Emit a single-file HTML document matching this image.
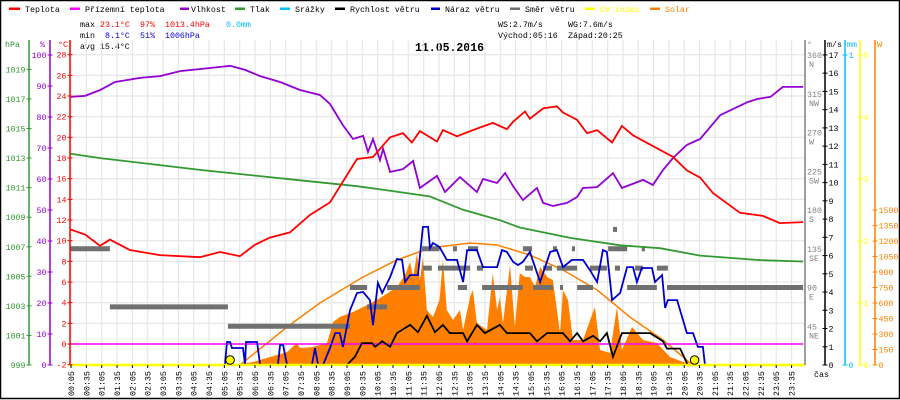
<!DOCTYPE html>
<html><head><meta charset="utf-8"><style>
html,body{margin:0;padding:0;background:#fff;}
svg{display:block;font-family:"Liberation Mono",monospace;}
</style></head><body>
<svg id="chart" width="900" height="400" viewBox="0 0 900 400" xmlns="http://www.w3.org/2000/svg">
<rect x="0.5" y="0.5" width="899" height="398" fill="#fff" stroke="#000" stroke-width="1.5"/>
<g font-size="8.3" fill="#000">
 <g><rect x="9" y="7.5" width="11" height="2.5" fill="#ff0000"/><text x="25" y="12">Teplota</text></g>
 <g><rect x="70" y="7.5" width="10" height="2.5" fill="#ff00ff"/><text x="85" y="12">Přízemní teplota</text></g>
 <g><rect x="180" y="7.5" width="9" height="2.5" fill="#9400d3"/><text x="191" y="12">Vlhkost</text></g>
 <g><rect x="235" y="7.5" width="10" height="2.5" fill="#339933"/><text x="250" y="12">Tlak</text></g>
 <g><rect x="280" y="7.5" width="10" height="2.5" fill="#00bfff"/><text x="295" y="12">Srážky</text></g>
 <g><rect x="335" y="7.5" width="10" height="2.5" fill="#000"/><text x="350" y="12">Rychlost větru</text></g>
 <g><rect x="431" y="7.5" width="9" height="2.5" fill="#0000cc"/><text x="445" y="12">Náraz větru</text></g>
 <g><rect x="510" y="7.5" width="10" height="2.5" fill="#707070"/><text x="525" y="12">Směr větru</text></g>
 <g><rect x="585" y="7.5" width="10" height="2.5" fill="#ffff00"/><text x="600" y="12" fill="#ffff00">UV index</text></g>
 <g><rect x="650" y="7.5" width="10" height="2.5" fill="#ff8000"/><text x="665" y="12" fill="#ff8000">Solar</text></g>
</g>
<g font-size="8.3">
 <text y="27"><tspan x="80" fill="#000">max</tspan><tspan x="100" fill="#ff0000">23.1°C</tspan><tspan x="140" fill="#ff0000">97%</tspan><tspan x="165" fill="#ff0000">1013.4hPa</tspan><tspan fill="#00bfff" x="226">0.0mm</tspan></text>
 <text y="38"><tspan x="80" fill="#000">min</tspan><tspan x="105" fill="#0000cc">8.1°C</tspan><tspan x="140" fill="#0000cc">51%</tspan><tspan x="165" fill="#0000cc">1006hPa</tspan></text>
 <text x="80" y="49" fill="#000">avg 15.4°C</text>
 <text x="498" y="27" fill="#000">WS:2.7m/s</text>
 <text x="568" y="27" fill="#000">WG:7.6m/s</text>
 <text x="498" y="38" fill="#000">Východ:05:16</text>
 <text x="568" y="38" fill="#000">Západ:20:25</text>
 <text x="415" y="51" font-size="11.5" font-weight="bold" fill="#000">11.05.2016</text>
</g>
<g id="layer"></g>
</svg>
<script>
// ---- data (hours, values) ----
const tempH = [0.05,0.54,1.03,1.35,2.0,2.98,4.29,4.94,5.59,6.08,6.57,7.22,7.88,8.53,9.41,9.93,10.49,10.91,11.2,11.46,12.02,12.21,12.67,13.19,13.84,14.30,14.50,14.89,15.05,15.48,15.93,16.13,16.59,16.91,17.24,17.73,18.05,18.41,18.97,19.72,20.17,20.6,21.02,21.9,22.65,23.2,23.96];
const tempV = [11.1,10.6,9.5,10.1,9.1,8.6,8.4,8.9,8.5,9.6,10.3,10.8,12.5,13.7,17.9,18.1,20.0,20.4,19.5,20.6,19.6,20.7,20.1,20.7,21.4,20.8,21.5,22.5,21.8,22.8,23.0,22.4,21.7,20.4,20.7,19.5,21.1,20.2,19.3,18.1,16.8,16.1,14.6,12.7,12.4,11.7,11.8];
const humH = [0.05,0.54,1.03,1.52,2.33,2.98,3.64,4.62,5.27,5.76,6.25,6.90,7.55,8.20,8.53,8.95,9.28,9.61,9.77,9.93,10.16,10.26,10.49,10.91,11.24,11.46,12.02,12.28,12.77,13.32,13.52,13.98,14.24,14.50,14.82,15.28,15.48,15.80,16.26,16.59,16.78,17.24,17.43,17.76,18.05,18.74,19.06,19.39,19.72,20.17,20.6,21.26,22.15,22.47,22.90,23.30,23.96];
const humV = [86.5,86.8,88.7,91.3,92.6,93.2,94.8,95.8,96.5,95.2,93.2,91.3,88.7,87.1,84.2,77.4,72.9,73.9,68.7,72.9,66.1,69.7,62.3,63.2,65.8,57.1,61.0,55.8,60.6,55.8,60.0,58.7,61.9,57.7,53.2,57.1,52.3,51.3,52.3,54.2,57.1,57.4,59.0,61.9,57.1,59.7,58.1,62.9,66.8,71.0,72.9,80.6,84.8,85.8,86.5,89.7,89.7];
const presH = [0.05,1.03,4.29,7.55,9.41,10.81,11.79,12.87,14.07,14.72,16.36,17.99,19.29,20.6,22.55,23.96];
const presV = [1013.3,1013.0,1012.2,1011.5,1011.1,1010.7,1010.4,1009.5,1008.8,1008.3,1007.6,1007.1,1006.9,1006.4,1006.1,1006.0];
const groundH = [0.05,23.96];
const groundV = [0,0];
const gustH = [0,5.10,5.17,5.27,5.33,5.69,5.76,5.79,6.15,6.25,6.83,6.90,7.00,7.13,7.94,8.04,8.14,8.30,8.53,8.70,8.85,8.95,9.18,9.41,9.61,9.83,9.93,10.09,10.23,10.49,10.71,10.88,10.98,11.14,11.40,11.56,11.73,11.79,11.89,12.10,12.34,12.67,12.87,13.0,13.32,13.52,13.98,14.14,14.30,14.50,14.66,14.82,15.05,15.38,15.71,15.93,16.13,16.42,16.78,17.01,17.24,17.43,17.56,17.73,17.99,18.22,18.41,18.54,18.70,19.03,19.13,19.36,19.46,19.55,19.85,20.17,20.37,20.53,20.69,20.76];
const gustV = [0,0,1.26,1.26,0.93,0.93,0,1.26,1.26,0,0,1.1,1.1,0,0,0.93,0,0,0.93,1.75,1.75,0.99,3.0,3.95,4.0,3.56,2.19,4.5,3.95,4.82,5.81,5.76,4.55,4.93,4.93,7.57,7.57,6.41,6.69,6.47,5.76,5.76,4.55,6.3,6.3,5.37,5.37,6.3,6.2,5.65,5.48,5.65,6.2,4.55,6.2,6.3,5.37,5.76,5.76,5.2,4.55,6.3,6.2,3.56,3.95,5.37,5.37,4.55,5.32,5.32,4.55,4.93,3.13,3.56,3.56,1.75,1.75,0.99,0.99,0];
const windH = [0.05,9.08,9.34,9.57,9.90,10.0,10.23,10.49,10.71,11.14,11.40,11.69,11.95,12.21,12.44,12.87,13.0,13.32,13.58,14.07,14.30,15.05,15.28,15.61,16.13,16.36,16.59,16.78,17.11,17.34,17.56,17.76,18.05,18.97,19.39,19.52,19.95,20.20,23.96];
const windV = [0,0,0.45,1.2,1.2,1.0,1.3,1.0,1.75,2.2,1.8,2.7,1.8,2.2,1.75,1.75,1.3,2.2,1.75,2.2,1.75,1.75,1.3,1.75,1.75,1.3,1.75,1.3,1.6,1.3,1.75,0.45,1.75,1.75,1.3,0.9,0.9,0,0];
const dirStart = [0.05,1.35,5.20,9.18,10.39,12.70,13.49,15.15,16.03,16.59,18.22,19.52,9.74,11.56,12.05,13.32,14.89,15.48,15.93,17.01,17.82,18.48,19.19,11.53,12.54,13.03,14.82,15.80,16.42,17.60,18.70,17.76];
const dirEnd   = [1.35,5.20,9.18,9.74,11.46,13.0,14.82,15.80,16.13,17.11,19.19,23.96,10.39,11.85,13.10,13.52,15.15,15.77,16.59,17.56,17.99,18.74,19.55,12.10,12.67,13.36,15.12,15.93,16.52,18.22,18.80,17.89];
const dirDeg   = [135,67.5,45,90,90,90,90,90,90,90,90,90,67.5,112.5,112.5,112.5,112.5,112.5,112.5,112.5,112.5,112.5,112.5,135,135,135,135,135,135,135,135,157.5];
const solarH = [5.37,6.02,7.13,7.45,7.55,7.97,8.43,8.63,8.85,9.18,9.28,9.74,10.16,10.71,10.98,11.14,11.24,11.37,11.46,11.56,11.69,11.89,12.10,12.21,12.34,12.54,12.77,12.87,13.10,13.19,13.32,13.65,13.84,13.98,14.07,14.17,14.40,14.56,14.72,14.89,15.05,15.22,15.38,15.61,15.80,16.03,16.13,16.29,16.45,16.78,17.17,17.34,17.66,17.89,18.05,18.38,18.74,19.19,19.62,20.05,20.27,20.37];
const solarV = [0,29,126,213,164,174,213,416,465,503,513,581,648,755,871,997,852,1084,823,1045,532,465,629,1016,532,436,532,339,658,726,407,339,890,532,658,407,968,368,890,852,852,755,949,852,823,310,726,629,242,242,562,145,116,562,145,368,242,213,77,29,10,0];
const solarMaxH = [5.59,7.13,8.20,9.28,9.61,10.71,11.79,13.10,13.98,15.05,16.13,17.24,18.31,19.39,20.05,20.34];
const solarMaxV = [0,368,600,794,852,1016,1133,1181,1162,1065,920,726,465,242,77,0];
const uvH = [0,24];
const uvV = [0,0];
const sunH = [5.27,20.42];
const hpaTicks = [999,1001,1003,1005,1007,1009,1011,1013,1015,1017,1019];
const humTicks = [0,10,20,30,40,50,60,70,80,90,100];
const tempTicks = [-2,0,2,4,6,8,10,12,14,16,18,20,22,24,26,28];
const dirTicks = [45,90,135,180,225,270,315,360];
const dirNames = ["NE","E","SE","S","SW","W","NW","N"];
const msTicks = [0,1,2,3,4,5,6,7,8,9,10,11,12,13,14,15,16,17];
const mmTicks = [0,1];
const uvTicks = [0,1,2,3,4,5];
const wTicks = [0,150,300,450,600,750,900,1050,1200,1350,1500];
const timeLabels = ["00:05","00:35","01:05","01:35","02:05","02:35","03:05","03:35","04:05","04:35","05:05","05:35","06:05","06:35","07:05","07:35","08:05","08:35","09:05","09:35","10:05","10:35","11:05","11:35","12:05","12:35","13:05","13:35","14:05","14:35","15:05","15:35","16:05","16:35","17:05","17:35","18:05","18:35","19:05","19:35","20:05","20:35","21:05","21:35","22:05","22:35","23:05","23:35"];

// ---- scales ----
const X = h => 68.5 + h*30.66;
const yT = t => 344 - t*10.333;
const yHum = v => 365 - v*3.1;
const yP = p => 365 - (p-999)*14.78;
const yV = v => 365 - v*18.24;
const yD = d => 365 - d*0.861;
const yW = w => 365 - w*0.1033;
const yUV = u => 365 - u*62;
const yMM = m => 365 - m*310;
const tH = s => { const p = s.split(':'); return (+p[0]) + (+p[1])/60; };

const NS = "http://www.w3.org/2000/svg";
const layer = document.getElementById('layer');
function mk(tag, attrs, parent){ const e=document.createElementNS(NS,tag); for(const k in attrs) e.setAttribute(k,attrs[k]); (parent||layer).appendChild(e); return e; }
function pts(hs, vs, fy){ return hs.map((h,i)=>X(h).toFixed(1)+','+fy(vs[i]).toFixed(1)).join(' '); }
let el;

// grid
const grid = mk('g',{stroke:'#e6e6e6','stroke-width':1.2});


timeLabels.forEach(s=>{
  el = mk('line',{x1:X(tH(s)),x2:X(tH(s)),y1:40,y2:365},grid);
  
  
});
tempTicks.forEach(t=>{
  el = mk('line',{x1:70,x2:805,y1:yT(t),y2:yT(t)},grid);
  
  
});

// solar area
el = mk('polygon',{points: X(solarH[0])+','+365+' '+pts(solarH,solarV,yW)+' '+X(solarH[solarH.length-1])+',365', fill:'#ff8000'});


el = mk('polyline',{points:pts(solarMaxH,solarMaxV,yW),fill:'none',stroke:'#ff8000','stroke-width':1.5});



// wind direction
dirDeg.forEach((d,i)=>{
  el = mk('line',{x1:X(dirStart[i]),x2:X(dirEnd[i]),y1:yD(d),y2:yD(d),stroke:'#707070','stroke-width':5});
  
  
});

// series lines
el = mk('polyline',{points:pts(presH,presV,yP),fill:'none',stroke:'#339933','stroke-width':1.8});


el = mk('polyline',{points:pts(humH,humV,yHum),fill:'none',stroke:'#9400d3','stroke-width':1.8});


el = mk('polyline',{points:pts(tempH,tempV,yT),fill:'none',stroke:'#ff0000','stroke-width':1.8});


el = mk('polyline',{points:pts(groundH,groundV,yT),fill:'none',stroke:'#ff00ff','stroke-width':1.5});


el = mk('polyline',{points:pts(gustH,gustV,yV),fill:'none',stroke:'#0000cc','stroke-width':1.8});


el = mk('polyline',{points:pts(windH,windV,yV),fill:'none',stroke:'#000','stroke-width':1.8});


el = mk('polyline',{points:pts(uvH,uvV,yUV),fill:'none',stroke:'#ffff00','stroke-width':2.5});


sunH.forEach(h=>{
  el = mk('circle',{cx:X(h),cy:360,r:4.3,fill:'#ffff00',stroke:'#000','stroke-width':1});
  
  
});

// axes
function axis(name, x, color, ticks, fy, labelSide){
  const g = mk('g',{});
  
  
  const ln = mk('line',{x1:x,x2:x,y1:40,y2:365,stroke:color,'stroke-width':1.5},g);
  
  
  ticks.forEach((t)=>{
    const tk = mk('line',{x1:x-2.5,x2:x+2.5,y1:fy(t),y2:fy(t),stroke:color,'stroke-width':1},g);
    
    
    const tx = mk('text',{x: labelSide<0? x-3.5 : x+3.5, y: fy(t)+3, fill:color,'font-size':8.3,'text-anchor': labelSide<0?'end':'start'},g);
    
    
    tx.textContent = String(t);
  });
  return g;
}
axis('pressure-axis',29,'#339933',hpaTicks,yP,-1);
axis('humidity-axis',50,'#9400d3',humTicks,yHum,-1);
axis('temperature-axis',70,'#ff0000',tempTicks,yT,-1);
axis('wind-speed-axis',825,'#000',msTicks,yV,1);
axis('rain-axis',845,'#00bfff',mmTicks,yMM,1);
axis('uv-axis',860,'#ffff00',uvTicks,yUV,1);
axis('solar-axis',875,'#ff8000',wTicks,yW,1);
// direction axis
const dg = mk('g',{});


el = mk('line',{x1:805,x2:805,y1:40,y2:365,stroke:'#808080','stroke-width':1.5},dg);


dirTicks.forEach((d,i)=>{
  el = mk('text',{x:807,y:yD(d)+3,fill:'#808080','font-size':8.3},dg);
  
  
  el.textContent = String(d);
  el = mk('text',{x:809,y:yD(d)+12,fill:'#808080','font-size':8.3},dg);
  
  
  el.textContent = dirNames[i];
});
// axis titles
[["hPa",5,'#339933'],["%",40,'#9400d3'],["°C",58,'#ff0000'],["°",807,'#808080'],["m/s",827,'#000'],["mm",847,'#00bfff'],["W",877,'#ff8000']].forEach(a=>{
  el = mk('text',{x:a[1],y:47,fill:a[2],'font-size':8.3});
  
  
  el.textContent = a[0];
});
// time axis
const tg = mk('g',{});


timeLabels.forEach(s=>{
  const x = X(tH(s));
  el = mk('line',{x1:x,x2:x,y1:365,y2:368,stroke:'#000','stroke-width':1},tg);
  
  
  el = mk('text',{x:0,y:0,transform:'translate('+(x+3)+',396) rotate(-90)','font-size':8.3,fill:'#000'},tg);
  
  
  el.textContent = s;
});
el = mk('text',{x:814,y:377,'font-size':8.3,fill:'#000'});


el.textContent = 'čas';
</script>
</body></html>
